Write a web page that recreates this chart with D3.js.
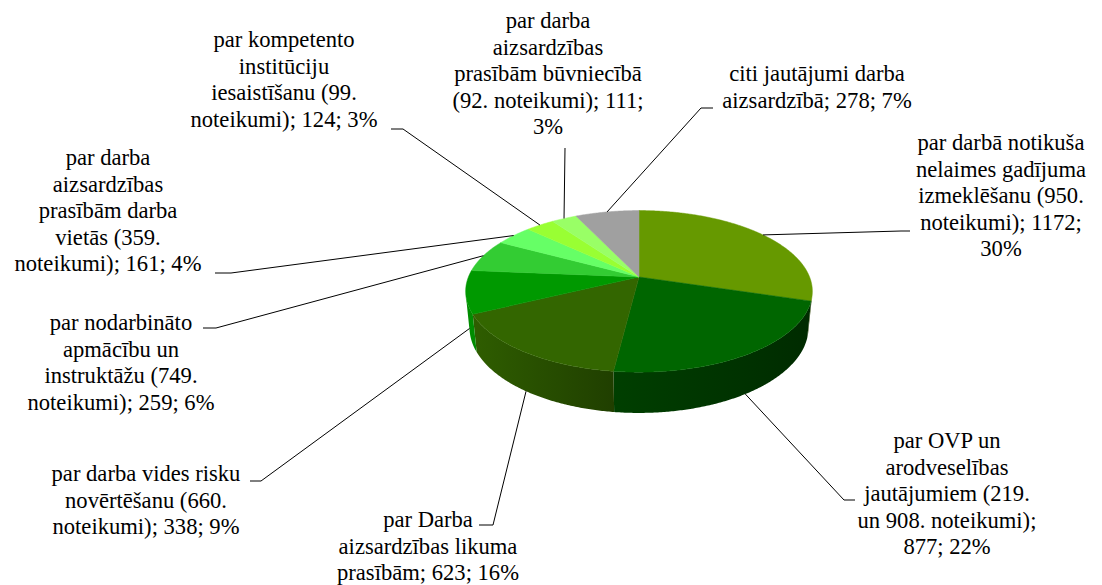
<!DOCTYPE html>
<html>
<head>
<meta charset="utf-8">
<script src="https://cdn.jsdelivr.net/npm/d3@7"></script>
<style>
  body { margin: 0; background: #fff; }
  svg { display: block; }
</style>
</head>
<body>
<div id="chart"></div>
<script>
// slice values, clockwise from 12 o'clock
const values = [1172, 877, 623, 338, 259, 161, 124, 111, 278];
const percents = ["30%", "22%", "16%", "9%", "6%", "4%", "3%", "3%", "7%"];
const colors = ["#669900", "#006600", "#336600", "#009900", "#33cc33",
                "#66ff66", "#99ff33", "#99ff66", "#a0a0a0"];
const labels = [
  ["par darbā notikuša", "nelaimes gadījuma", "izmeklēšanu (950.", "noteikumi); 1172;", "30%"],
  ["par OVP un", "arodveselības", "jautājumiem (219.", "un 908. noteikumi);", "877; 22%"],
  ["par Darba", "aizsardzības likuma", "prasībām; 623; 16%"],
  ["par darba vides risku", "novērtēšanu (660.", "noteikumi); 338; 9%"],
  ["par nodarbināto", "apmācību un", "instruktāžu (749.", "noteikumi); 259; 6%"],
  ["par darba", "aizsardzības", "prasībām darba", "vietās (359.", "noteikumi); 161; 4%"],
  ["par kompetento", "institūciju", "iesaistīšanu (99.", "noteikumi); 124; 3%"],
  ["par darba", "aizsardzības", "prasībām būvniecībā", "(92. noteikumi); 111;", "3%"],
  ["citi jautājumi darba", "aizsardzībā; 278; 7%"]
];

// label layout: text centre x, first baseline y, leader elbow and end
const labelLayout = [
  { x: 1001, y: 150, elbow: [901, 231], end: [910, 231] },
  { x: 947, y: 448, elbow: [844, 500], end: [855, 500] },
  { x: 428, y: 527, elbow: [493, 525], end: [479, 525] },
  { x: 146, y: 481, elbow: [261, 481], end: [250, 481] },
  { x: 121, y: 330, elbow: [216, 328], end: [203, 328] },
  { x: 108, y: 165, elbow: [231, 273], end: [215, 273] },
  { x: 284, y: 47, elbow: [403, 129], end: [391, 129] },
  { x: 548, y: 28, elbow: [565, 148], end: [565, 148] },
  { x: 817, y: 81, elbow: [701, 108], end: [713, 108] }
];

const width = 1102, height = 585;
const lineH = 26.6;
const fontSize = 22.6;

// perspective 3d pie
const pie3d = { cx: 639, cy: 277, f: 853, L: 5, tilt: 27.3 * Math.PI / 180, h: 0.241 };

function project(theta, Y) {
  const X = Math.sin(theta), Z = -Math.cos(theta);
  const c = Math.cos(pie3d.tilt), s = Math.sin(pie3d.tilt);
  const yv = Y * c - Z * s;
  const zv = Z * c + Y * s;
  const dist = pie3d.L - zv;
  return [pie3d.cx + pie3d.f * X / dist, pie3d.cy - pie3d.f * yv / dist];
}

const svg = d3.select("#chart").append("svg")
  .attr("width", width)
  .attr("height", height);

svg.append("rect").attr("width", width).attr("height", height).attr("fill", "#fff");

const defs = svg.append("defs");
const arcs = d3.pie().sort(null).value(d => d)(values);

// side walls (only the part facing the viewer), shaded darker to the right
const silhouette = Math.acos(-1 / (pie3d.L * Math.cos(pie3d.tilt)));
const sideMin = silhouette, sideMax = 2 * Math.PI - silhouette;
const shadeX = [470, 614, 810];
const shadeK = [0.92, 0.62, 0.42];
const step = Math.PI / 360;

const sides = svg.append("g");
arcs.forEach((a, i) => {
  const a0 = Math.max(a.startAngle, sideMin);
  const a1 = Math.min(a.endAngle, sideMax);
  if (a1 <= a0) return;
  const base = d3.rgb(colors[i]);
  const grad = defs.append("linearGradient")
    .attr("id", "side" + i)
    .attr("gradientUnits", "userSpaceOnUse")
    .attr("x1", shadeX[0]).attr("x2", shadeX[2])
    .attr("y1", 0).attr("y2", 0);
  shadeX.forEach((x, j) => {
    const k = shadeK[j];
    grad.append("stop")
      .attr("offset", (x - shadeX[0]) / (shadeX[2] - shadeX[0]))
      .attr("stop-color", d3.rgb(base.r * k, base.g * k, base.b * k).formatHex());
  });
  const topPts = [], botPts = [];
  const n = Math.max(2, Math.ceil((a1 - a0) / step));
  for (let j = 0; j <= n; j++) {
    const t = a0 + (a1 - a0) * j / n;
    topPts.push(project(t, 0));
    botPts.push(project(t, -pie3d.h));
  }
  const pts = topPts.concat(botPts.reverse());
  sides.append("path")
    .attr("d", "M" + pts.map(p => p.join(",")).join("L") + "Z")
    .attr("fill", "url(#side" + i + ")");
});

// top face
const topFace = svg.append("g");
arcs.forEach((a, i) => {
  const pts = [[pie3d.cx, pie3d.cy]];
  const n = Math.max(2, Math.ceil((a.endAngle - a.startAngle) / step));
  for (let j = 0; j <= n; j++) {
    const t = a.startAngle + (a.endAngle - a.startAngle) * j / n;
    pts.push(project(t, 0));
  }
  topFace.append("path")
    .attr("d", "M" + pts.map(p => p.join(",")).join("L") + "Z")
    .attr("fill", colors[i])
    .attr("stroke", colors[i])
    .attr("stroke-width", 0.5);
});

// leader lines
const leaders = svg.append("g");
arcs.forEach((a, i) => {
  const mid = (a.startAngle + a.endAngle) / 2;
  const front = mid > Math.PI / 2 && mid < 3 * Math.PI / 2;
  const anchor = project(mid, front ? -pie3d.h : 0);
  const lay = labelLayout[i];
  leaders.append("path")
    .attr("d", d3.line()([anchor, lay.elbow, lay.end]))
    .attr("fill", "none")
    .attr("stroke", "#000")
    .attr("stroke-width", 1);
});

// labels, one text element per line
const texts = svg.append("g");
labels.forEach((lines, i) => {
  const lay = labelLayout[i];
  lines.forEach((ln, j) => {
    texts.append("text")
      .attr("x", lay.x)
      .attr("y", lay.y + j * lineH)
      .attr("font-family", "'Liberation Serif', 'Times New Roman', serif")
      .attr("font-size", fontSize)
      .attr("text-anchor", "middle")
      .text(ln);
  });
});
</script>
</body>
</html>
